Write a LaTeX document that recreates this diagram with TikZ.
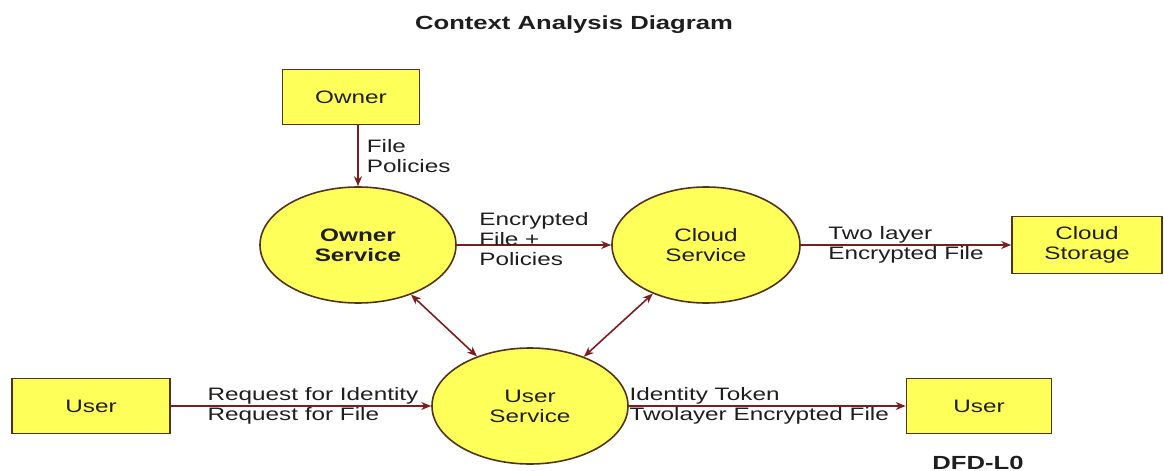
\documentclass[tikz,border=0pt]{standalone}
\usepackage{fontspec}
\setmainfont[FakeStretch=1.35]{Liberation Sans}
\usetikzlibrary{positioning,shapes.geometric,arrows.meta}
\definecolor{boxfill}{RGB}{255,255,90}
\definecolor{boxline}{RGB}{85,50,30}
\definecolor{flowline}{RGB}{125,30,30}
\definecolor{labeltext}{RGB}{30,30,30}

\begin{document}
\begin{tikzpicture}[
    x=0.5pt, y=-0.5pt,
    font=\fontsize{9}{10}\selectfont,
    entitybox/.style={rectangle, draw=boxline, fill=boxfill, thick, text=labeltext, minimum height=27.5pt},
    processnode/.style={ellipse, draw=boxline, fill=boxfill, thick, text=labeltext, align=center, minimum width=98pt, minimum height=58pt},
    flow/.style={draw=flowline, thick, -{Stealth[length=5pt,width=4pt]}},
    bothflow/.style={draw=flowline, thick, {Stealth[length=5pt,width=4pt]}-{Stealth[length=5pt,width=4pt]}},
    flowlabel/.style={text=labeltext, align=left, inner sep=1pt},
    ]
    \useasboundingbox (0,0) rectangle (1164,471);

    %Nodes
    \node[font=\fontsize{9.5}{10}\selectfont\bfseries, text=labeltext] (title) at (574,25) {Context Analysis Diagram};
    \node[entitybox, minimum width=68.5pt]  (owner)    at (351,97)   {Owner};
    \node[processnode, font=\fontsize{9}{10}\selectfont\bfseries] (ownersvc) at (358,245) {Owner\\Service};
    \node[processnode, minimum width=94pt]  (cloudsvc) at (706,245)  {Cloud\\Service};
    \node[entitybox, minimum width=75pt, minimum height=28.5pt, align=center] (storage) at (1087,245) {Cloud\\Storage};
    \node[processnode]                      (usersvc)  at (530,406)  {User\\Service};
    \node[entitybox, minimum width=79pt]    (userin)   at (91,406)   {User};
    \node[entitybox, minimum width=72.5pt]  (userout)  at (979,406)  {User};
    \node[font=\fontsize{9.5}{10}\selectfont\bfseries, text=labeltext] (dfdlevel) at (978,463) {DFD-L0};

    %Lines
    \draw[flow] (ownersvc.north |- owner.south) -- node[flowlabel, right=3pt] {File\\Policies} (ownersvc.north);
    \draw[flow] (ownersvc) -- node[flowlabel, yshift=3pt] {Encrypted\\File +\\Policies} (cloudsvc);
    \draw[flow] (cloudsvc) -- node[flowlabel] {Two layer\\Encrypted File} (storage);
    \draw[flow] (userin) -- node[flowlabel, xshift=6pt] {Request for Identity\\Request for File} (usersvc);
    \draw[flow] (usersvc) -- node[flowlabel, xshift=-4pt] {Identity Token\\Twolayer Encrypted File} (userout);
    \draw[bothflow] (ownersvc) -- (usersvc);
    \draw[bothflow] (cloudsvc) -- (usersvc);

    \end{tikzpicture}
\end{document}
